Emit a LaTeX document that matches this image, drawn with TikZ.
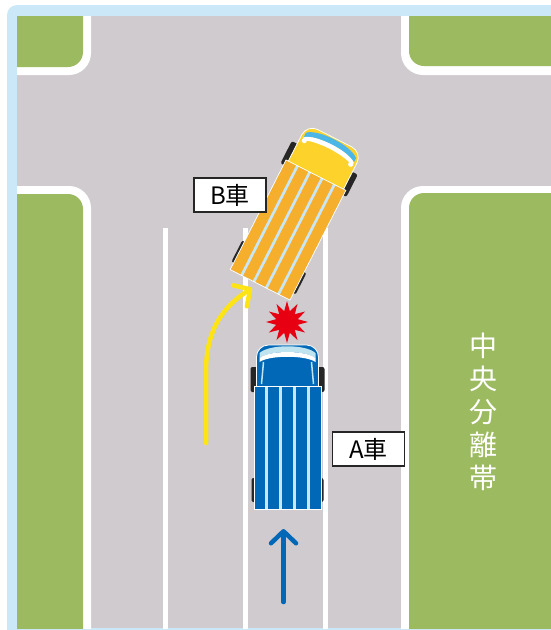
\documentclass[tikz,border=0pt]{standalone}
\usepackage{fontspec}
\newfontfamily\jpfont{Noto Sans CJK JP}
\usetikzlibrary{arrows.meta,shapes.geometric}

\definecolor{framecol}{HTML}{CBE8F8}
\definecolor{asphalt}{HTML}{CFCBCE}
\definecolor{grass}{HTML}{9CBA5F}
\definecolor{bluecar}{HTML}{0068B7}
\definecolor{gapcol}{HTML}{C9E6F4}
\definecolor{orangecar}{HTML}{F6AE2D}
\definecolor{yellowcab}{HTML}{FDD22A}
\definecolor{skyglass}{HTML}{4CB6E6}
\definecolor{paleglass}{HTML}{BFE3EF}
\definecolor{crash}{HTML}{E60012}
\definecolor{arrowyellow}{HTML}{FFE415}

\tikzset{
  curb/.style={fill=white, rounded corners=22pt},
  lawn/.style={fill=grass, rounded corners=15pt},
  laneline/.style={fill=white},
  labelbox/.style={draw=black!85, line width=1.2pt, fill=white, inner sep=0pt,
    minimum width=72pt, minimum height=34pt, font=\jpfont\fontsize{24}{24}\selectfont},
  movearrow/.style={line width=4.5pt, line cap=round,
    -{Straight Barb[length=12pt, width=25pt, round]}},
  % a truck seen from above, cargo centre at the origin, front towards -y
  pics/truck/.style={code={
    \fill[black!85, rounded corners=2pt] (-37,-81) rectangle (-30,-56);
    \fill[black!85, rounded corners=2pt] (30,-81) rectangle (37,-56);
    \fill[black!85, rounded corners=2pt] (-36,30) rectangle (-30,54);
    \fill[black!85, rounded corners=2pt] (30,30) rectangle (36,54);
    \filldraw[fill=cabcol, draw=white, line width=0.8pt, rounded corners=12pt]
      (-31,-103) rectangle (31,-50);
    \fill[glasscol] (-28,-95) .. controls (-18,-104) and (18,-104) .. (28,-95)
      -- (28,-90) .. controls (18,-98) and (-18,-98) .. (-28,-90) -- cycle;
    \fill[white] (-28,-90) .. controls (-18,-98) and (18,-98) .. (28,-90)
      -- (28,-86) .. controls (18,-93) and (-18,-93) .. (-28,-86) -- cycle;
    \filldraw[fill=gapcol, draw=white, line width=0.8pt] (-33.5,-61.5) rectangle (33.5,61.5);
    \foreach \i in {0,...,4}{
      \fill[bodycol] ({-33+\i*13.8},-61) rectangle ({-33+\i*13.8+10.8},61);
    }
  }}
}

\begin{document}
\begin{tikzpicture}[x=1pt, y=-1pt]
\useasboundingbox (0,0) rectangle (551,630);
\fill[white] (0,0) rectangle (551,630);

% light blue frame
\begin{scope}
  \clip (0,0) rectangle (551,630);
  \fill[framecol, rounded corners=10pt] (7,5) rectangle (600,680);
\end{scope}

% road surface, kerbs and grass verges
\begin{scope}
  \clip (17,16) rectangle (551,628);
  \fill[asphalt] (17,16) rectangle (551,628);
  \fill[curb] (-60,-60) rectangle (91,75);
  \fill[lawn] (-60,-60) rectangle (83,67);
  \fill[curb] (401,-60) rectangle (640,75);
  \fill[lawn] (409,-60) rectangle (640,66);
  \fill[curb] (-60,186) rectangle (91,700);
  \fill[lawn] (-60,194) rectangle (83,700);
  \fill[curb] (401,186) rectangle (640,700);
  \fill[lawn] (409,193) rectangle (640,700);
  % lane lines
  \fill[laneline] (163,228) rectangle (168,640);
  \fill[laneline] (243,228) rectangle (248,640);
  \fill[laneline] (322.5,228) rectangle (327.5,640);
\end{scope}

% car A (blue), going straight
\begin{scope}[shift={(287.5,448)}]
  \colorlet{bodycol}{bluecar}
  \colorlet{cabcol}{bluecar}
  \colorlet{glasscol}{paleglass}
  \pic[transform shape] {truck};
  \draw[paleglass, line width=1.5pt] (-24,-86) -- (-26,-64);
  \draw[paleglass, line width=1.5pt] (24,-86) -- (26,-64);
\end{scope}

% car B (yellow), turning right
\begin{scope}[shift={(288,230)}, rotate=-27]
  \colorlet{bodycol}{orangecar}
  \colorlet{cabcol}{yellowcab}
  \colorlet{glasscol}{skyglass}
  \pic[transform shape] {truck};
  \fill[white] (-26,-87) circle (2.6pt);
  \fill[white] (26,-87) circle (2.6pt);
\end{scope}

% point of collision
\node[star, star points=12, star point ratio=1.9, fill=crash, inner sep=0pt,
  minimum size=42pt] (impact) at (287,322) {};

% paths of travel
\coordinate (ystart) at (206,443);
\coordinate (ybend) at (206,372);
\coordinate (yend) at (252,288);
\draw[movearrow, arrowyellow] (ystart) -- (ybend)
  .. controls (206,326) and (226,305) .. (yend);

\coordinate (bstart) at (283.5,602);
\coordinate (bend) at (283.5,529);
\draw[movearrow, bluecar] (bstart) -- (bend);

% labels
\node[labelbox] (labelB) at (230,195) {B車};
\node[labelbox] (labelA) at (368.5,449) {A車};
\node[text=white, align=center, inner sep=0pt,
  font=\jpfont\fontsize{28}{33}\selectfont] (median) at (483,412) {中\\央\\分\\離\\帯};
\end{tikzpicture}
\end{document}
